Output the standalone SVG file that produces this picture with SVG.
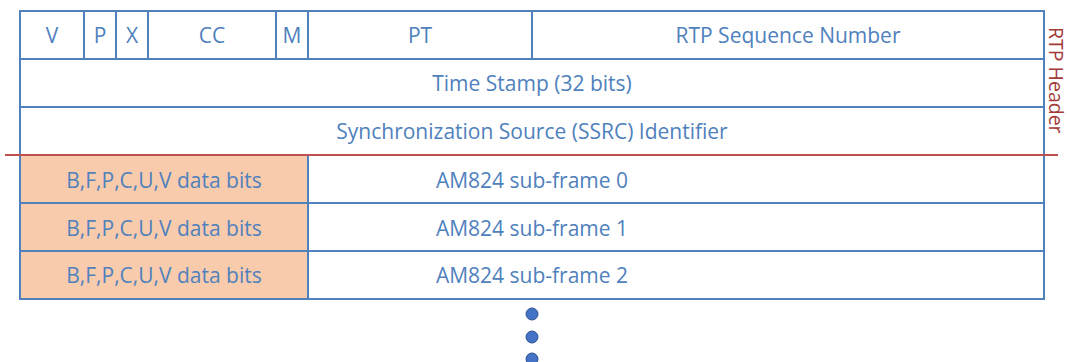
<svg xmlns="http://www.w3.org/2000/svg" width="1069" height="362" viewBox="0 0 1069 362">
  <style>
    .cell { fill: #ffffff; stroke: #4f81bd; stroke-width: 2; }
    .bits { fill: #f8cbad; stroke: #4f81bd; stroke-width: 2; }
    .lbl { font-family: "Open Sans", "Liberation Sans", sans-serif; font-size: 21px; fill: #4f81bd; text-anchor: middle; dominant-baseline: central; }
    .side { font-family: "Open Sans", "Liberation Sans", sans-serif; font-size: 19.5px; fill: #a33a38; dominant-baseline: central; }
    .dot { fill: #4472c4; stroke: #2f528f; stroke-width: 1; }
  </style>
  <rect width="1069" height="362" fill="#ffffff"/>

  <!-- RTP header: first word -->
  <g id="row-first">
    <rect class="cell" x="20" y="11" width="64" height="48"/>
    <rect class="cell" x="84" y="11" width="32" height="48"/>
    <rect class="cell" x="116" y="11" width="32" height="48"/>
    <rect class="cell" x="148" y="11" width="128" height="48"/>
    <rect class="cell" x="276" y="11" width="32" height="48"/>
    <rect class="cell" x="308" y="11" width="224" height="48"/>
    <rect class="cell" x="532" y="11" width="512" height="48"/>
    <text class="lbl" x="52" y="35">V</text>
    <text class="lbl" x="100" y="35">P</text>
    <text class="lbl" x="132" y="35">X</text>
    <text class="lbl" x="212" y="35">CC</text>
    <text class="lbl" x="292" y="35">M</text>
    <text class="lbl" x="420" y="35">PT</text>
    <text class="lbl" x="788" y="35">RTP Sequence Number</text>
  </g>

  <g id="row-timestamp">
    <rect class="cell" x="20" y="59" width="1024" height="48"/>
    <text class="lbl" x="532" y="83">Time Stamp (32 bits)</text>
  </g>

  <g id="row-ssrc">
    <rect class="cell" x="20" y="107" width="1024" height="48"/>
    <text class="lbl" x="532" y="131">Synchronization Source (SSRC) Identifier</text>
  </g>

  <!-- AM824 payload sub-frames -->
  <g id="subframe-0">
    <rect class="bits" x="20" y="155" width="288" height="48"/>
    <rect class="cell" x="308" y="155" width="736" height="48"/>
    <text class="lbl" x="164" y="180">B,F,P,C,U,V data bits</text>
    <text class="lbl" x="532" y="180">AM824 sub-frame 0</text>
  </g>
  <g id="subframe-1">
    <rect class="bits" x="20" y="203" width="288" height="48"/>
    <rect class="cell" x="308" y="203" width="736" height="48"/>
    <text class="lbl" x="164" y="228">B,F,P,C,U,V data bits</text>
    <text class="lbl" x="532" y="228">AM824 sub-frame 1</text>
  </g>
  <g id="subframe-2">
    <rect class="bits" x="20" y="251" width="288" height="48"/>
    <rect class="cell" x="308" y="251" width="736" height="48"/>
    <text class="lbl" x="164" y="275">B,F,P,C,U,V data bits</text>
    <text class="lbl" x="532" y="275">AM824 sub-frame 2</text>
  </g>

  <!-- header boundary and label -->
  <g id="connectors">
    <line x1="5" y1="155" x2="1058" y2="155" stroke="#c0504d" stroke-width="2"/>
  </g>
  <g id="header-label">
    <text class="side" transform="translate(1056.5 27) rotate(90)">RTP Header</text>
  </g>

  <!-- continuation dots -->
  <g id="ellipsis">
    <circle class="dot" cx="532" cy="314" r="6"/>
    <circle class="dot" cx="532" cy="337" r="6"/>
    <circle class="dot" cx="532" cy="359" r="6"/>
  </g>
</svg>
